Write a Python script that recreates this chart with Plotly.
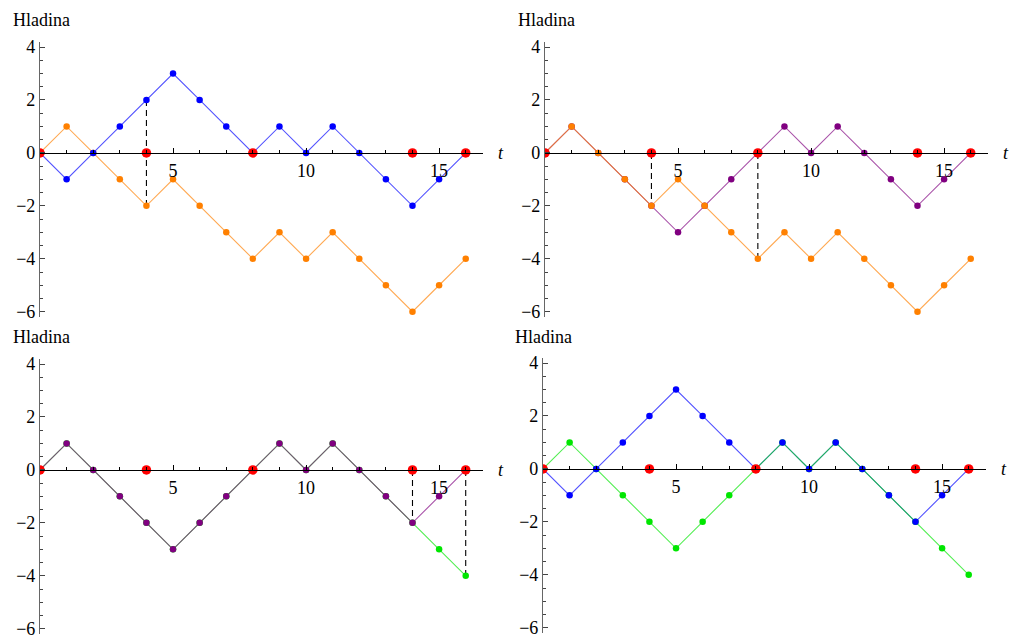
import plotly.graph_objects as go

# ---- data ----
t = list(range(17))
walk_blue = [0, -1, 0, 1, 2, 3, 2, 1, 0, 1, 0, 1, 0, -1, -2, -1, 0]
walk_orange = [0, 1, 0, -1, -2, -1, -2, -3, -4, -3, -4, -3, -4, -5, -6, -5, -4]
walk_purple = [0, 1, 0, -1, -2, -3, -2, -1, 0, 1, 0, 1, 0, -1, -2, -1, 0]
walk_green = [0, 1, 0, -1, -2, -3, -2, -1, 0, 1, 0, 1, 0, -1, -2, -3, -4]
zero_times = [0, 4, 8, 14, 16]
x_ticks = [5, 10, 15]
y_ticks = [-6, -4, -2, 0, 2, 4]

COL = {
    "blue": (0, 0, 255),
    "orange": (255, 128, 0),
    "purple": (128, 0, 128),
    "green": (0, 230, 0),
}
walks = {"blue": walk_blue, "orange": walk_orange, "purple": walk_purple, "green": walk_green}

# panels: (line order bottom->top, marker order bottom->top, dashed segments (time, walk_top, walk_bottom))
panels = [
    (["orange", "blue"], ["orange", "blue"], [(4, "blue", "orange")]),
    (["purple", "orange"], ["purple", "orange"], [(4, None, "orange"), (8, None, "orange")]),
    (["green", "purple"], ["green", "purple"], [(14, None, "green"), (16, None, "green")]),
    (["blue", "green"], ["green", "blue"], []),
]

W, H = 1013, 637
XR = [0, 16.65]
YR = [-6.2, 4.19]
# pixel boxes (left, right, top, bottom)
boxes = [(40, 483, 42, 317), (545, 988, 42, 317), (40, 483, 359, 634), (543, 986, 358, 633)]
label_pos = [(11, 20), (516, 20), (11, 337), (513, 337)]

FONT = "'Liberation Serif', 'Times New Roman', Times, 'DejaVu Serif', serif"
fig = go.Figure()
layout = {}
annotations = []

for i, ((lorder, morder, dashes), box) in enumerate(zip(panels, boxes)):
    n = i + 1
    xa = "x" if n == 1 else f"x{n}"
    ya = "y" if n == 1 else f"y{n}"
    l, r, tp, bt = box
    xd = [l / W, r / W]
    yd = [1 - bt / H, 1 - tp / H]
    ypos0 = yd[0] + (0 - YR[0]) / (YR[1] - YR[0]) * (yd[1] - yd[0])

    # dashed verticals
    for (tt, wtop, wbot) in dashes:
        y_top = 0 if wtop is None else walks[wtop][tt]
        y_bot = walks[wbot][tt]
        fig.add_trace(go.Scatter(x=[tt, tt], y=[y_top, y_bot], mode="lines",
                                 line=dict(color="black", width=1.1, dash="6px,4px"),
                                 xaxis=xa, yaxis=ya, showlegend=False, hoverinfo="skip"))
    # walk lines
    for name in lorder:
        c = COL[name]
        fig.add_trace(go.Scatter(x=t, y=walks[name], mode="lines",
                                 line=dict(color=f"rgba({c[0]},{c[1]},{c[2]},0.68)", width=1.1),
                                 xaxis=xa, yaxis=ya, showlegend=False, hoverinfo="skip"))
    # walk markers
    for name in morder:
        c = COL[name]
        fig.add_trace(go.Scatter(x=t, y=walks[name], mode="markers",
                                 marker=dict(color=f"rgb({c[0]},{c[1]},{c[2]})", size=6.5),
                                 xaxis=xa, yaxis=ya, showlegend=False))
    # red zero points
    fig.add_trace(go.Scatter(x=zero_times, y=[0] * len(zero_times), mode="markers",
                             marker=dict(color="rgb(255,0,0)", size=9.5),
                             xaxis=xa, yaxis=ya, showlegend=False))

    layout["xaxis" if n == 1 else f"xaxis{n}"] = dict(
        domain=xd, range=XR, anchor="free", position=ypos0, automargin=False,
        showline=True, linecolor="black", linewidth=1.2,
        tickvals=x_ticks, ticks="inside", ticklen=5, tickcolor="black",
        minor=dict(dtick=1, tick0=0, ticks="inside", ticklen=3, tickcolor="black"),
        showgrid=False, zeroline=False, ticklabelstandoff=1, ticklabeloverflow="allow",
        tickfont=dict(family=FONT, size=18, color="black"),
    )
    layout["yaxis" if n == 1 else f"yaxis{n}"] = dict(
        domain=yd, range=YR, anchor=xa, automargin=False,
        showline=True, linecolor="#666666", linewidth=1.2,
        tickvals=y_ticks, ticks="inside", ticklen=5, tickcolor="#444444",
        minor=dict(dtick=0.5, tick0=0, ticks="inside", ticklen=3, tickcolor="#444444"),
        showgrid=False, zeroline=False, ticklabeloverflow="allow",
        tickfont=dict(family=FONT, size=18, color="black"),
    )
    lx, ly = label_pos[i]
    annotations.append(dict(text="Hladina", x=lx / W, y=1 - ly / H, xref="paper", yref="paper",
                            xanchor="left", yanchor="middle", showarrow=False,
                            font=dict(family=FONT, size=18, color="black")))
    annotations.append(dict(text="<i>t</i>", x=(r + 18) / W, y=ypos0, xref="paper", yref="paper",
                            xanchor="center", yanchor="middle", showarrow=False,
                            font=dict(family=FONT, size=18, color="black")))

fig.update_layout(
    width=W, height=H, margin=dict(l=0, r=0, t=0, b=0, autoexpand=False),
    paper_bgcolor="white", plot_bgcolor="white",
    annotations=annotations, showlegend=False, **layout,
)
fig.write_html("out.html", config={"displayModeBar": False},
               post_script="document.body.style.margin='0';document.body.style.overflow='hidden';")
